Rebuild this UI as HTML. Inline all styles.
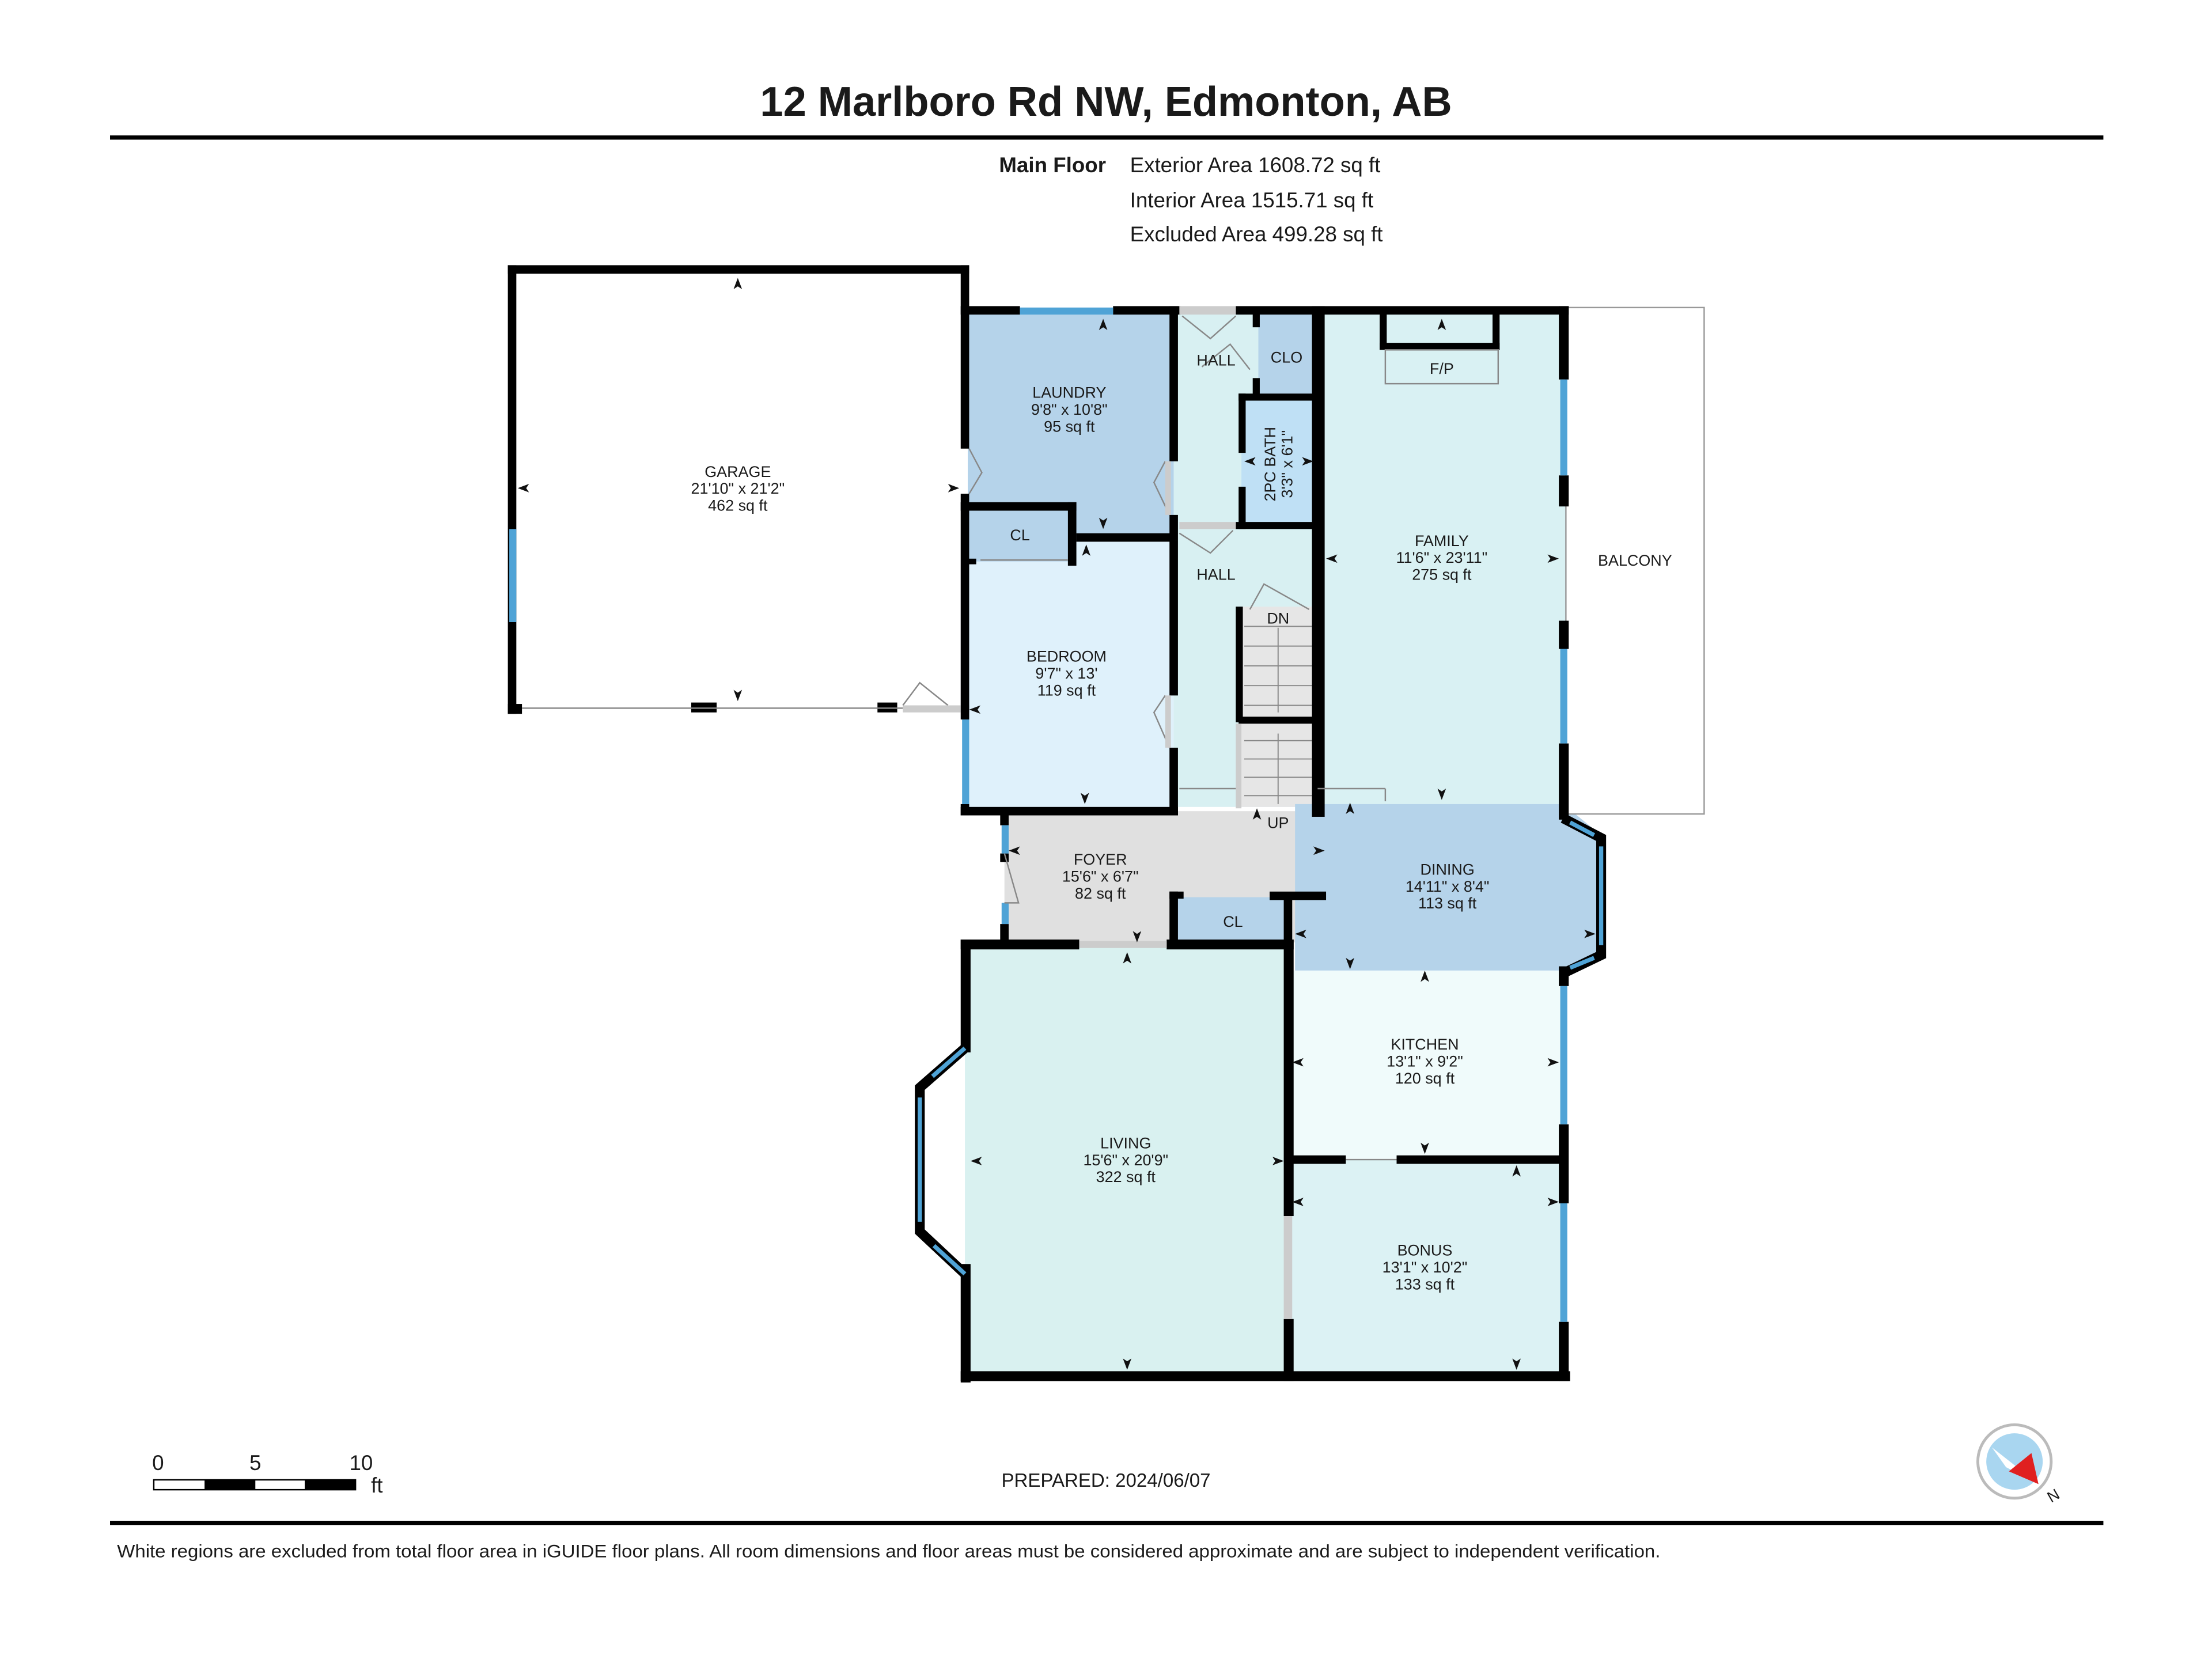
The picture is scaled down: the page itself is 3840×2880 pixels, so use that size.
<!DOCTYPE html>
<html><head><meta charset="utf-8"><style>
html,body{margin:0;padding:0;background:#fff;}
svg{display:block;}
text{font-family:"Liberation Sans",sans-serif;fill:#1a1a1a;}
</style></head><body>
<svg width="3840" height="2880" viewBox="0 0 1568 1176" xmlns="http://www.w3.org/2000/svg">
<defs>
<path id="au" d="M0 -5 L3 3 L0 1 L-3 3 Z" fill="#111"/>
</defs>
<rect width="1568" height="1176" fill="#fff"/>
<text x="784" y="82" font-size="29.5" font-weight="bold" text-anchor="middle">12 Marlboro Rd NW, Edmonton, AB</text>
<rect x="78" y="96" width="1413" height="3" fill="#000"/>
<text x="784" y="122" font-size="15" font-weight="bold" text-anchor="end">Main Floor</text>
<text x="801" y="122" font-size="15">Exterior Area 1608.72 sq ft</text>
<text x="801" y="147" font-size="15">Interior Area 1515.71 sq ft</text>
<text x="801" y="171" font-size="15">Excluded Area 499.28 sq ft</text>

<!-- fills -->
<rect x="686" y="222" width="146" height="158" fill="#b5d3ea"/>
<rect x="686" y="380" width="146" height="195" fill="#dff1fb"/>
<rect x="686" y="362" width="74" height="36" fill="#b5d3ea"/>
<rect x="832" y="222" width="102" height="350" fill="#d8f0f2"/>
<rect x="892" y="222" width="42" height="58" fill="#b5d3ea"/>
<rect x="880" y="282" width="54" height="90" fill="#bfe0f5"/>
<rect x="878" y="430" width="56" height="142" fill="#e6e6e6"/>
<rect x="934" y="222" width="176" height="348" fill="#d9f1f3"/>
<rect x="712" y="575" width="228" height="93" fill="#e0e0e0"/>
<path d="M918 570 L1108 570 L1135 592 L1135 678 L1108 688 L918 688 Z" fill="#b5d3ea"/>
<rect x="832" y="636" width="80" height="32" fill="#b5d3ea"/>
<rect x="684" y="670" width="228" height="305" fill="#d9f1f0"/>
<rect x="914" y="688" width="194" height="134" fill="#f0fbfb"/>
<rect x="914" y="822" width="194" height="153" fill="#dcf2f4"/>

<!-- balcony -->
<rect x="1110" y="218" width="98" height="359" fill="#fff" stroke="#999" stroke-width="1"/>
<text x="1159" y="401" font-size="11" text-anchor="middle">BALCONY</text>

<!-- walls -->
<g fill="#000">
<rect x="360" y="188" width="327" height="6"/>
<rect x="360" y="188" width="6" height="318"/>
<rect x="681" y="188" width="6" height="130"/>
<rect x="681" y="350" width="6" height="155"/>
<rect x="360" y="499" width="10" height="7"/>
<rect x="490" y="498" width="18" height="7"/>
<rect x="622" y="498" width="14" height="7"/>
<rect x="681" y="217" width="42" height="6"/>
<rect x="789" y="217" width="48" height="6"/>
<rect x="876" y="217" width="236" height="6"/>
<rect x="829" y="217" width="6" height="110"/>
<rect x="829" y="365" width="6" height="18"/>
<rect x="681" y="356" width="82" height="6"/>
<rect x="757" y="356" width="6" height="45"/>
<rect x="763" y="378" width="70" height="6"/>
<rect x="686" y="396" width="6" height="4"/>
<rect x="829" y="383" width="6" height="110"/>
<rect x="829" y="530" width="6" height="48"/>
<rect x="681" y="500" width="6" height="10"/>
<rect x="681" y="570" width="6" height="8"/>
<rect x="681" y="572" width="154" height="6"/>
<rect x="888" y="222" width="5" height="10"/>
<rect x="888" y="268" width="5" height="14"/>
<rect x="878" y="279" width="56" height="5"/>
<rect x="878" y="279" width="5" height="42"/>
<rect x="878" y="345" width="5" height="30"/>
<rect x="876" y="370" width="58" height="5"/>
<rect x="930" y="217" width="9" height="362"/>
<rect x="876" y="430" width="5" height="82"/>
<rect x="878" y="508" width="56" height="5"/>
<rect x="1105" y="217" width="7" height="52"/>
<rect x="1105" y="337" width="7" height="22"/>
<rect x="1105" y="440" width="7" height="20"/>
<rect x="1105" y="527" width="7" height="54"/>
<rect x="978" y="222" width="5" height="26"/>
<rect x="1058" y="222" width="5" height="26"/>
<rect x="978" y="243" width="85" height="5"/>
<rect x="709" y="575" width="6" height="10"/>
<rect x="709" y="605" width="6" height="6"/>
<rect x="709" y="655" width="6" height="14"/>
<rect x="681" y="666" width="84" height="7"/>
<rect x="827" y="666" width="90" height="7"/>
<rect x="829" y="632" width="6" height="40"/>
<rect x="829" y="632" width="10" height="5"/>
<rect x="900" y="632" width="40" height="6"/>
<rect x="910" y="635" width="6" height="35"/>
<rect x="681" y="666" width="7" height="80"/>
<rect x="681" y="896" width="7" height="84"/>
<rect x="681" y="972" width="432" height="7"/>
<rect x="910" y="666" width="7" height="196"/>
<rect x="910" y="935" width="7" height="44"/>
<rect x="914" y="819" width="40" height="6"/>
<rect x="990" y="819" width="120" height="6"/>
<rect x="1105" y="685" width="7" height="14"/>
<rect x="1105" y="797" width="7" height="56"/>
<rect x="1105" y="937" width="7" height="42"/>
</g>
<g fill="#4fa3d6">
<rect x="361" y="375" width="5" height="66"/>
<rect x="723" y="218" width="66" height="5"/>
<rect x="682" y="510" width="5" height="60"/>
<rect x="1106" y="269" width="5" height="68"/>
<rect x="1106" y="460" width="5" height="67"/>
<rect x="710" y="585" width="5" height="20"/>
<rect x="710" y="640" width="5" height="15"/>
<rect x="1106" y="699" width="5" height="98"/>
<rect x="1106" y="853" width="5" height="84"/>
</g>
<polyline points="684,743 652,771 652,873 684,903" fill="none" stroke="#000" stroke-width="7"/>
<polyline points="684,743 661,763" stroke="#4fa3d6" stroke-width="3" fill="none"/>
<line x1="652" y1="778" x2="652" y2="866" stroke="#4fa3d6" stroke-width="3"/>
<polyline points="662,883 684,903" stroke="#4fa3d6" stroke-width="3" fill="none"/>
<polyline points="1108,580 1135,594 1135,677 1108,690" fill="none" stroke="#000" stroke-width="7"/>
<line x1="1113" y1="583" x2="1130" y2="592" stroke="#4fa3d6" stroke-width="3"/>
<line x1="1135" y1="600" x2="1135" y2="670" stroke="#4fa3d6" stroke-width="3"/>
<line x1="1113" y1="686" x2="1130" y2="679" stroke="#4fa3d6" stroke-width="3"/>

<g stroke="#888" stroke-width="1" fill="none">
<line x1="370" y1="502" x2="640" y2="502"/>
<rect x="982" y="248" width="80" height="24"/>
<line x1="836" y1="559" x2="878" y2="559"/>
<line x1="934" y1="559" x2="982" y2="559"/>
<line x1="982" y1="559" x2="982" y2="568"/>
<path d="M640 500 L652 484 L672 500"/>
<path d="M838 224 L858 240 L876 224"/>
<path d="M852 260 L872 244 L886 262"/>
<path d="M836 378 L858 392 L874 376"/>
<path d="M886 432 L896 414 L928 432"/>
<path d="M826 327 L818 342 L829 365"/>
<path d="M826 493 L818 505 L829 530"/>
<path d="M687 318 L696 335 L687 350"/>
<path d="M712 605 L722 640 L712 640"/>
<line x1="695" y1="397" x2="757" y2="397"/>
<line x1="770" y1="670" x2="827" y2="670"/>
<line x1="954" y1="822" x2="990" y2="822"/>
</g>
<g fill="#ccc">
<rect x="836" y="217" width="40" height="6"/>
<rect x="836" y="370" width="40" height="5"/>
<rect x="876" y="513" width="4" height="60"/>
<rect x="910" y="862" width="6" height="73"/>
<rect x="765" y="667" width="62" height="5"/>
<rect x="826" y="327" width="4" height="38"/>
<rect x="826" y="493" width="4" height="37"/>
<rect x="640" y="500" width="41" height="5"/>
</g>
<g stroke="#888" stroke-width="0.8">
<line x1="882" y1="444" x2="930" y2="444"/><line x1="882" y1="458" x2="930" y2="458"/>
<line x1="882" y1="472" x2="930" y2="472"/><line x1="882" y1="486" x2="930" y2="486"/>
<line x1="882" y1="500" x2="930" y2="500"/>
<line x1="882" y1="525" x2="930" y2="525"/><line x1="882" y1="538" x2="930" y2="538"/>
<line x1="882" y1="551" x2="930" y2="551"/><line x1="882" y1="564" x2="930" y2="564"/>
<line x1="906" y1="445" x2="906" y2="505"/><line x1="906" y1="520" x2="906" y2="570"/>
</g>

<!-- dimension arrows -->
<g>
<use href="#au" transform="translate(523,202)"/>
<use href="#au" transform="translate(523,492) rotate(180)"/>
<use href="#au" transform="translate(372,346) rotate(-90)"/>
<use href="#au" transform="translate(675,346) rotate(90)"/>
<use href="#au" transform="translate(782,231)"/>
<use href="#au" transform="translate(782,370) rotate(180)"/>
<use href="#au" transform="translate(770,391)"/>
<use href="#au" transform="translate(769,565) rotate(180)"/>
<use href="#au" transform="translate(692,503) rotate(-90)"/>
<use href="#au" transform="translate(887,327) rotate(-90)"/>
<use href="#au" transform="translate(926,327) rotate(90)"/>
<use href="#au" transform="translate(1022,231)"/>
<use href="#au" transform="translate(1022,562) rotate(180)"/>
<use href="#au" transform="translate(945,396) rotate(-90)"/>
<use href="#au" transform="translate(1100,396) rotate(90)"/>
<use href="#au" transform="translate(720,603) rotate(-90)"/>
<use href="#au" transform="translate(934,603) rotate(90)"/>
<use href="#au" transform="translate(891,578)"/>
<use href="#au" transform="translate(806,663) rotate(180)"/>
<use href="#au" transform="translate(957,574)"/>
<use href="#au" transform="translate(957,682) rotate(180)"/>
<use href="#au" transform="translate(923,662) rotate(-90)"/>
<use href="#au" transform="translate(1126,662) rotate(90)"/>
<use href="#au" transform="translate(1010,693)"/>
<use href="#au" transform="translate(1010,813) rotate(180)"/>
<use href="#au" transform="translate(921,753) rotate(-90)"/>
<use href="#au" transform="translate(1100,753) rotate(90)"/>
<use href="#au" transform="translate(799,680)"/>
<use href="#au" transform="translate(799,966) rotate(180)"/>
<use href="#au" transform="translate(693,823) rotate(-90)"/>
<use href="#au" transform="translate(905,823) rotate(90)"/>
<use href="#au" transform="translate(1075,831)"/>
<use href="#au" transform="translate(1075,966) rotate(180)"/>
<use href="#au" transform="translate(921,852) rotate(-90)"/>
<use href="#au" transform="translate(1100,852) rotate(90)"/>
</g>

<g font-size="11" text-anchor="middle">
<text x="523" y="338">GARAGE</text><text x="523" y="350">21'10" x 21'2"</text><text x="523" y="362">462 sq ft</text>
<text x="758" y="282">LAUNDRY</text><text x="758" y="294">9'8" x 10'8"</text><text x="758" y="306">95 sq ft</text>
<text x="723" y="383">CL</text>
<text x="862" y="259">HALL</text>
<text x="912" y="257">CLO</text>
<text x="862" y="411">HALL</text>
<text x="906" y="442">DN</text>
<text x="906" y="587">UP</text>
<text x="756" y="469">BEDROOM</text><text x="756" y="481">9'7" x 13'</text><text x="756" y="493">119 sq ft</text>
<text x="1022" y="387">FAMILY</text><text x="1022" y="399">11'6" x 23'11"</text><text x="1022" y="411">275 sq ft</text>
<text x="1022" y="265">F/P</text>
<text x="780" y="613">FOYER</text><text x="780" y="625">15'6" x 6'7"</text><text x="780" y="637">82 sq ft</text>
<text x="1026" y="620">DINING</text><text x="1026" y="632">14'11" x 8'4"</text><text x="1026" y="644">113 sq ft</text>
<text x="874" y="657">CL</text>
<text x="1010" y="744">KITCHEN</text><text x="1010" y="756">13'1" x 9'2"</text><text x="1010" y="768">120 sq ft</text>
<text x="798" y="814">LIVING</text><text x="798" y="826">15'6" x 20'9"</text><text x="798" y="838">322 sq ft</text>
<text x="1010" y="890">BONUS</text><text x="1010" y="902">13'1" x 10'2"</text><text x="1010" y="914">133 sq ft</text>
<text transform="translate(904,329) rotate(-90)">2PC BATH</text>
<text transform="translate(916,329) rotate(-90)">3'3" x 6'1"</text>
</g>

<g font-size="15">
<text x="112" y="1042" text-anchor="middle">0</text>
<text x="181" y="1042" text-anchor="middle">5</text>
<text x="256" y="1042" text-anchor="middle">10</text>
<text x="263" y="1058">ft</text>
</g>
<rect x="109" y="1049" width="143" height="7" fill="#fff" stroke="#000" stroke-width="1"/>
<rect x="145" y="1049" width="36" height="7" fill="#000"/>
<rect x="216" y="1049" width="36" height="7" fill="#000"/>
<text x="784" y="1054" font-size="13.5" text-anchor="middle">PREPARED: 2024/06/07</text>
<circle cx="1428" cy="1036" r="26" fill="#fff" stroke="#bbb" stroke-width="2"/>
<circle cx="1428" cy="1036" r="20" fill="#a9d6f0"/>
<path d="M1412 1026 L1445 1052 L1422 1040 Z" fill="#fff"/>
<path d="M1424 1043 L1445 1052 L1440 1030 Z" fill="#e02020"/>
<text x="1452" y="1066" font-size="11" transform="rotate(-30 1452 1062)">N</text>

<rect x="78" y="1078" width="1413" height="3" fill="#000"/>
<text x="83" y="1104" font-size="13" textLength="1094" lengthAdjust="spacingAndGlyphs">White regions are excluded from total floor area in iGUIDE floor plans. All room dimensions and floor areas must be considered approximate and are subject to independent verification.</text>
</svg>
</body></html>
